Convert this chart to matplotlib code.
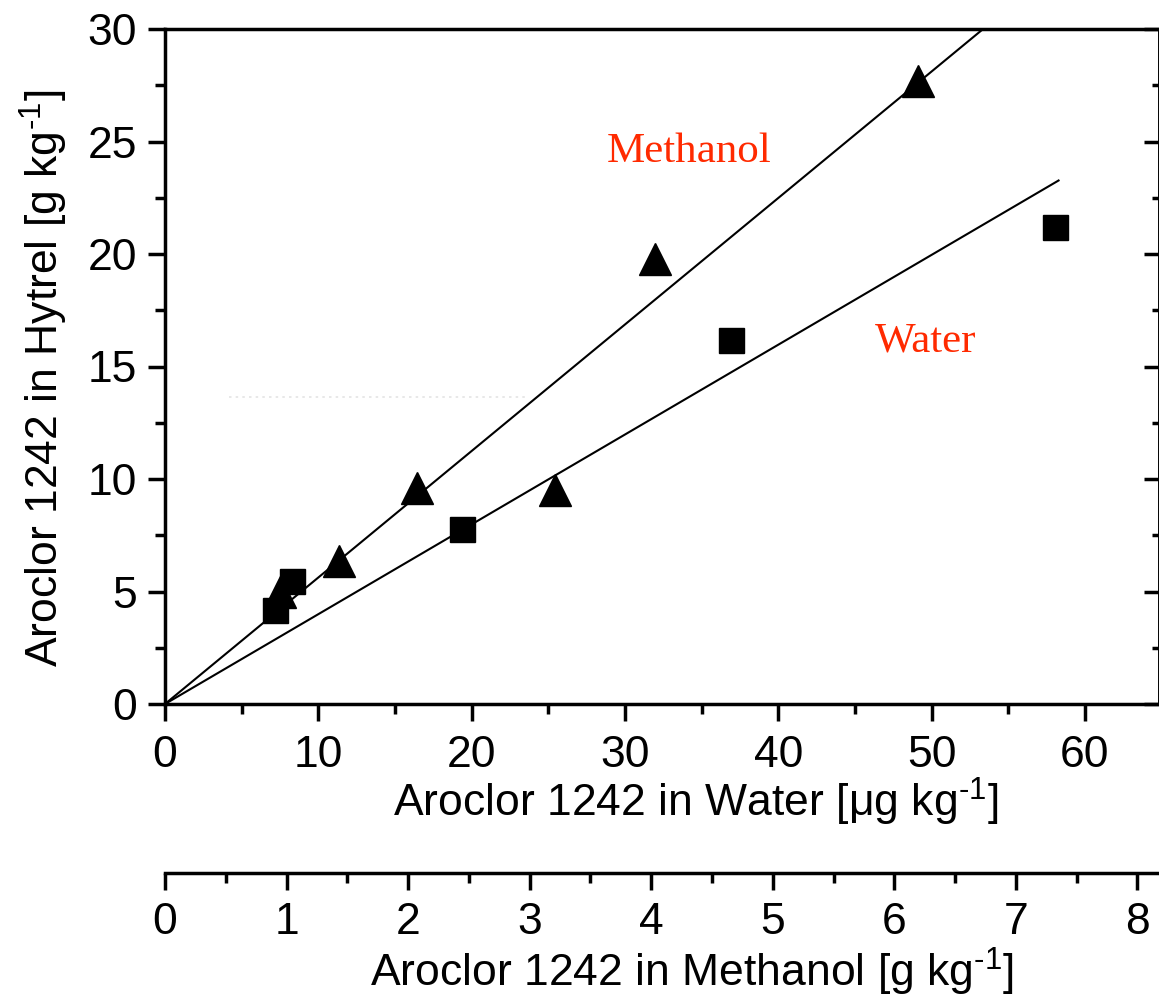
import matplotlib
matplotlib.use("Agg")
import matplotlib.pyplot as plt
from matplotlib.ticker import MultipleLocator
import numpy as np

plt.rcParams['font.family'] = ['Liberation Sans', 'DejaVu Sans']
plt.rcParams['mathtext.fontset'] = 'custom'
plt.rcParams['mathtext.rm'] = 'Liberation Sans'
plt.rcParams['mathtext.it'] = 'Liberation Sans:italic'

# ---- data ----
tri_x = [7.5, 11.35, 16.45, 25.45, 31.95, 49.1]
tri_y = [5.0, 6.37, 9.6, 9.52, 19.8, 27.7]
sq_x = [7.2, 8.26, 19.35, 36.9, 58.06]
sq_y = [4.2, 5.48, 7.8, 16.2, 21.18]

methanol_fit_x = [0.0, 53.36]
methanol_fit_y = [0.0, 30.0]
water_fit_x = [0.0, 58.34]
water_fit_y = [0.0, 23.29]

faint_x = [4.2, 23.5]
faint_y = [13.64, 13.64]

water_per_methanol = 7.928   # scale factor between the two x axes
xmax = 64.8
ymax = 30

x_ticks = [0, 10, 20, 30, 40, 50, 60]
y_ticks = [0, 5, 10, 15, 20, 25, 30]
m_ticks = [0, 1, 2, 3, 4, 5, 6, 7, 8]

W, H = 1159, 1000
fig = plt.figure(figsize=(W / 100, H / 100), dpi=100)
left, right, bottom, top = 165, 1158.5, 704, 29
ax = fig.add_axes([left / W, 1 - bottom / H, (right - left) / W, (bottom - top) / H])

FS = 32
LW = 2.5
SUP = r'$^{\text{-1}}$'

ax.plot(faint_x, faint_y, color='#e4e4e4', lw=1.2, ls=(0, (1.5, 2.5)))
ax.plot(methanol_fit_x, methanol_fit_y, color='black', lw=1.5, solid_capstyle='butt')
ax.plot(water_fit_x, water_fit_y, color='black', lw=1.5, solid_capstyle='butt')
ax.plot(tri_x, tri_y, ls='none', marker='^', ms=23, color='black', clip_on=False)
ax.plot(sq_x, sq_y, ls='none', marker='s', ms=18, color='black', clip_on=False)

ax.set_xlim(0, xmax)
ax.set_ylim(0, ymax)
ax.set_xticks(x_ticks)
ax.set_yticks(y_ticks)
ax.xaxis.set_minor_locator(MultipleLocator(5))
ax.yaxis.set_minor_locator(MultipleLocator(2.5))

for s in ax.spines.values():
    s.set_linewidth(LW)
ax.spines['right'].set_linewidth(1.2)

ax.tick_params(which='major', direction='out', length=12, width=LW, labelsize=FS)
ax.tick_params(which='minor', direction='out', length=7, width=LW)
ax.tick_params(axis='x', which='major', pad=10)
ax.tick_params(axis='y', which='major', pad=8)
ax.tick_params(top=False, right=False, which='both')

# right-side inward ticks
ry = ax.secondary_yaxis('right')
ry.set_yticks(y_ticks)
ry.yaxis.set_minor_locator(MultipleLocator(2.5))
ry.tick_params(which='major', direction='in', length=11, width=LW, labelright=False)
ry.tick_params(which='minor', direction='in', length=5, width=LW)
ry.spines['right'].set_linewidth(1.2)

# y label
ax.set_ylabel('Aroclor 1242 in Hytrel [g kg' + SUP + ']', fontsize=FS)
ax.yaxis.set_label_coords((70 - left) / (right - left), (bottom - 378) / (bottom - top))

# x label
ax.set_xlabel(u'Aroclor 1242 in Water [\u03bcg kg' + SUP + ']', fontsize=FS, va='baseline')
ax.xaxis.set_label_coords((696 - left) / (right - left), (bottom - 817) / (bottom - top))

# secondary methanol axis
loc = (bottom - 873) / (bottom - top)
sec = ax.secondary_xaxis(loc, functions=(lambda x: x / water_per_methanol,
                                         lambda m: m * water_per_methanol))
sec.set_xticks(m_ticks)
sec.xaxis.set_minor_locator(MultipleLocator(0.5))
sec.spines['bottom'].set_linewidth(LW)
sec.tick_params(which='major', direction='out', length=12, width=LW, labelsize=FS, pad=9)
sec.tick_params(which='minor', direction='out', length=7, width=LW)
fig.text(692 / W, 1 - 987 / H, 'Aroclor 1242 in Methanol [g kg' + SUP + ']', fontsize=FS,
         ha='center', va='baseline')

# annotations
red = '#ff2a00'
ax.text(28.8, 24.1, 'Methanol', color=red, fontsize=31, family='Liberation Serif',
        ha='left', va='baseline')
ax.text(46.3, 15.66, 'Water', color=red, fontsize=31, family='Liberation Serif',
        ha='left', va='baseline')

fig.savefig('out.png', dpi=100)
